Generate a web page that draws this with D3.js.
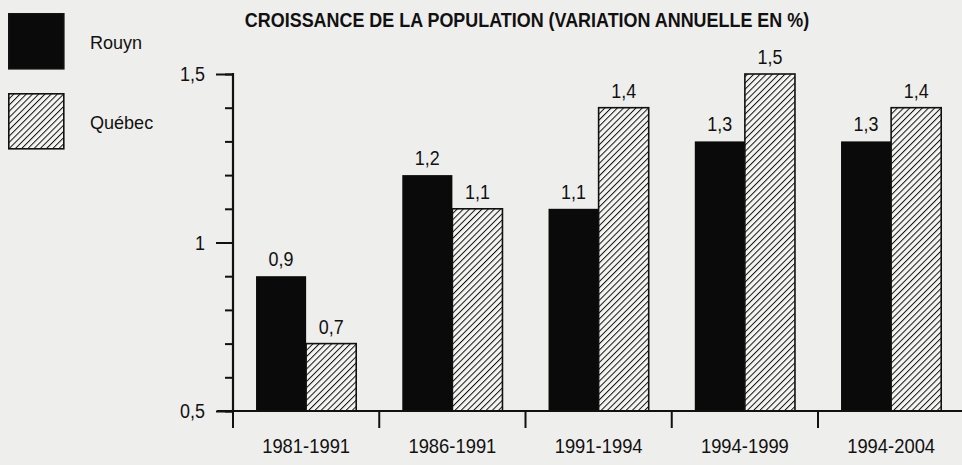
<!DOCTYPE html>
<html>
<head>
<meta charset="utf-8">
<script src="https://cdn.jsdelivr.net/npm/d3@7"></script>
<style>
  body { margin: 0; background: #eeeeec; }
  svg { display: block; }
  text { font-family: "Liberation Sans", Arial, sans-serif; fill: #111; }
</style>
</head>
<body>
<div id="chart"></div>
<script>
const periods = ["1981-1991", "1986-1991", "1991-1994", "1994-1999", "1994-2004"]
const series = ["Rouyn", "Québec"]
const rouyn = [0.9, 1.2, 1.1, 1.3, 1.3]
const quebec = [0.7, 1.1, 1.4, 1.5, 1.4]
const yTicks = [0.5, 1, 1.5]
const title = "CROISSANCE DE LA POPULATION (VARIATION ANNUELLE EN %)"

const W = 962, H = 465
const margin = {top: 74, left: 233, bottom: 54}
const fmt = v => String(v).replace(".", ",")

const svg = d3.select("#chart").append("svg")
  .attr("width", W).attr("height", H)

// condensed look: squeeze text horizontally around its anchor
function squeeze(sel, fx, fy, sx) {
  sel.attr("x", 0).attr("y", 0)
    .attr("transform", (d, i) => `translate(${fx(d, i)},${fy(d, i)}) scale(${sx},1)`)
}

// hatch pattern for Québec
const defs = svg.append("defs")
const pat = defs.append("pattern")
  .attr("id", "hatch")
  .attr("patternUnits", "userSpaceOnUse")
  .attr("width", 4.4).attr("height", 4.4)
  .attr("patternTransform", "rotate(45)")
pat.append("rect").attr("width", 4.4).attr("height", 4.4).attr("fill", "#f5f5f3")
pat.append("line").attr("x1", 0).attr("y1", 0).attr("x2", 0).attr("y2", 4.4)
  .attr("stroke", "#111").attr("stroke-width", 2)

const x = d3.scaleBand()
  .domain(periods)
  .range([margin.left, margin.left + 146.25 * periods.length])
  .paddingInner(0).paddingOuter(0)

const xs = d3.scaleBand()
  .domain(series)
  .range([0, x.bandwidth()])
  .paddingOuter(0.46).paddingInner(0)

const y = d3.scaleLinear()
  .domain([0.5, 1.5])
  .range([H - margin.bottom, margin.top])

const fills = {"Rouyn": "#0a0a0a", "Québec": "url(#hatch)"}

const rows = periods.map((p, i) => ({period: p, vals: [
  {s: "Rouyn", v: rouyn[i]}, {s: "Québec", v: quebec[i]}]}))

const groups = svg.selectAll(".grp")
  .data(rows).enter().append("g")
  .attr("transform", d => `translate(${x(d.period)},0)`)

groups.selectAll("rect")
  .data(d => d.vals).enter().append("rect")
  .attr("x", d => xs(d.s))
  .attr("y", d => y(d.v))
  .attr("width", xs.bandwidth())
  .attr("height", d => y(0.5) - y(d.v))
  .attr("fill", d => fills[d.s])
  .attr("stroke", "#111")
  .attr("stroke-width", d => d.s === "Québec" ? 1.6 : 0)

groups.selectAll(".lbl")
  .data(d => d.vals).enter().append("text")
  .attr("text-anchor", "middle")
  .style("font-size", "19.5px")
  .text(d => fmt(d.v))
  .call(squeeze, d => xs(d.s) + xs.bandwidth() / 2, d => y(d.v) - 10, 0.92)

// y axis, minor ticks every 0.1
const ya = svg.append("g")
  .attr("transform", `translate(${margin.left},0)`)
  .call(d3.axisLeft(y).tickValues(d3.range(5, 16).map(v => v / 10)).tickSize(8).tickFormat(""))
ya.select(".domain").remove()
ya.selectAll("line").attr("stroke", "#111").attr("stroke-width", 2)
ya.append("line")
  .attr("x1", 0).attr("x2", 0)
  .attr("y1", y(1.5) - 1).attr("y2", y(0.5))
  .attr("stroke", "#111").attr("stroke-width", 2.2)

const yMajor = svg.append("g")
  .attr("transform", `translate(${margin.left},0)`)
  .call(d3.axisLeft(y).tickValues(yTicks).tickSize(17).tickFormat(""))
yMajor.select(".domain").remove()
yMajor.selectAll("line").attr("stroke", "#111").attr("stroke-width", 2)
svg.selectAll(".yl")
  .data(yTicks).enter().append("text")
  .attr("text-anchor", "end")
  .style("font-size", "19.5px")
  .text(fmt)
  .call(squeeze, () => margin.left - 28, d => y(d) + 7, 0.92)

// x axis
const xAxisY = y(0.5)
svg.append("line")
  .attr("x1", margin.left - 16).attr("x2", W)
  .attr("y1", xAxisY).attr("y2", xAxisY)
  .attr("stroke", "#111").attr("stroke-width", 2.2)

svg.selectAll(".xt")
  .data(periods).enter().append("line")
  .attr("x1", d => x(d)).attr("x2", d => x(d))
  .attr("y1", xAxisY).attr("y2", xAxisY + 17)
  .attr("stroke", "#111").attr("stroke-width", 2)

svg.selectAll(".xl")
  .data(periods).enter().append("text")
  .attr("text-anchor", "middle")
  .style("font-size", "20px")
  .text(d => d)
  .call(squeeze, d => x(d) + x.bandwidth() / 2, () => xAxisY + 42, 0.92)

// title
svg.append("text")
  .attr("text-anchor", "middle")
  .style("font-size", "19.5px").style("font-weight", "bold")
  .text(title)
  .call(squeeze, () => 527, () => 27, 0.92)

// legend
const leg = svg.selectAll(".leg")
  .data(series).enter().append("g")
  .attr("transform", (d, i) => `translate(8,${13 + i * 80})`)
leg.append("rect")
  .attr("x", 0.8).attr("y", 0.8)
  .attr("width", 55).attr("height", 55)
  .attr("fill", d => fills[d])
  .attr("stroke", "#111").attr("stroke-width", 1.6)
leg.append("text")
  .style("font-size", "19px")
  .text(d => d)
  .call(squeeze, () => 82, () => 36, 0.95)
</script>
</body>
</html>
